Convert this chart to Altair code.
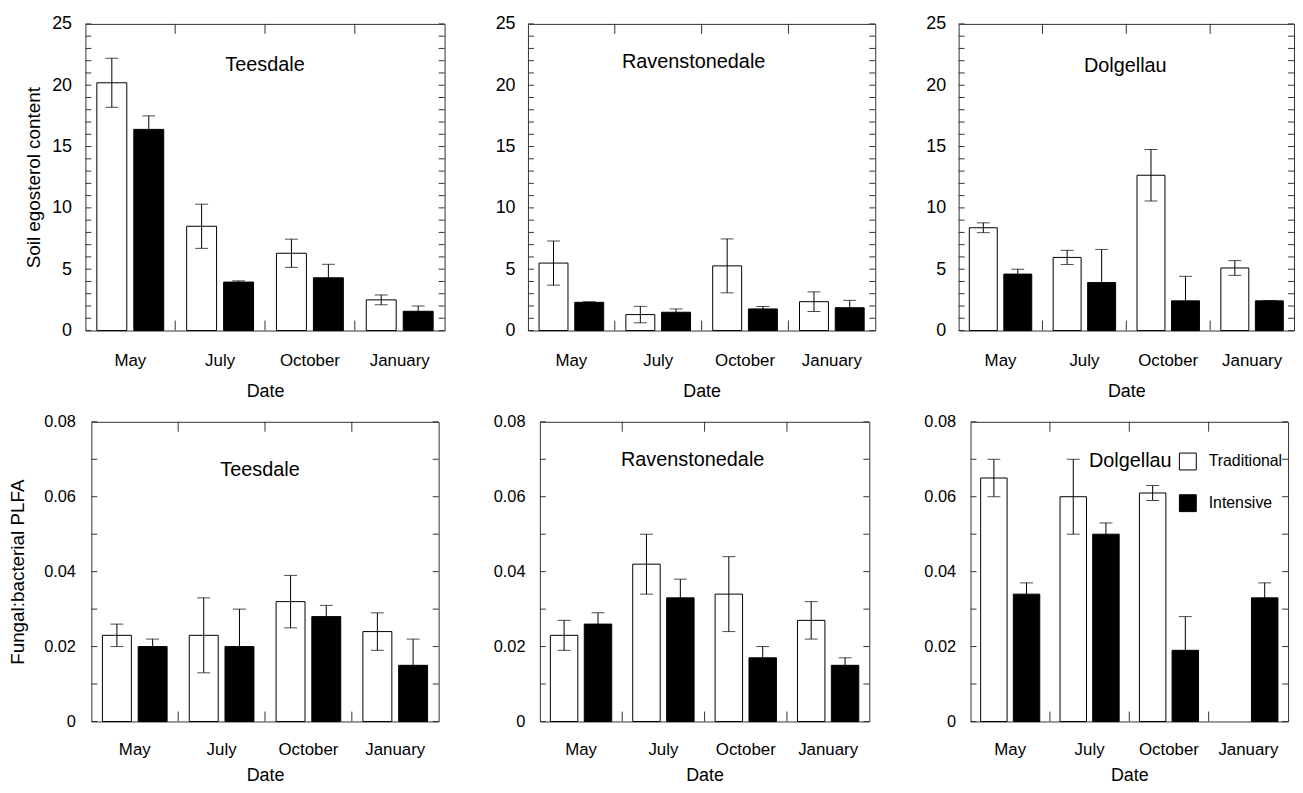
import altair as alt
import pandas as pd

FONT = "Liberation Sans"

months = ["May", "July", "October", "January"]
treatments = ["Traditional", "Intensive"]

# ---- Soil ergosterol content (top row) ----
tees_erg_trad = [20.2, 8.5, 6.3, 2.5]
tees_erg_trad_err = [2.0, 1.8, 1.15, 0.4]
tees_erg_int = [16.4, 3.95, 4.3, 1.57]
tees_erg_int_err = [1.1, 0.1, 1.1, 0.43]

rav_erg_trad = [5.5, 1.3, 5.27, 2.35]
rav_erg_trad_err = [1.8, 0.67, 2.2, 0.8]
rav_erg_int = [2.3, 1.49, 1.76, 1.86]
rav_erg_int_err = [0.05, 0.27, 0.2, 0.6]

dol_erg_trad = [8.38, 5.96, 12.66, 5.1]
dol_erg_trad_err = [0.4, 0.58, 2.1, 0.6]
dol_erg_int = [4.6, 3.91, 2.42, 2.42]
dol_erg_int_err = [0.4, 2.7, 2.0, 0.0]

# ---- Fungal:bacterial PLFA (bottom row) ----
tees_plfa_trad = [0.023, 0.023, 0.032, 0.024]
tees_plfa_trad_err = [0.003, 0.010, 0.007, 0.005]
tees_plfa_int = [0.020, 0.020, 0.028, 0.015]
tees_plfa_int_err = [0.002, 0.010, 0.003, 0.007]

rav_plfa_trad = [0.023, 0.042, 0.034, 0.027]
rav_plfa_trad_err = [0.004, 0.008, 0.010, 0.005]
rav_plfa_int = [0.026, 0.033, 0.017, 0.015]
rav_plfa_int_err = [0.003, 0.005, 0.003, 0.002]

dol_plfa_trad = [0.065, 0.060, 0.061, None]
dol_plfa_trad_err = [0.005, 0.010, 0.002, None]
dol_plfa_int = [0.034, 0.050, 0.019, 0.033]
dol_plfa_int_err = [0.003, 0.003, 0.009, 0.004]

erg_major = [0, 5, 10, 15, 20, 25]
erg_minor = list(range(0, 26))
plfa_major = [0, 0.02, 0.04, 0.06, 0.08]
plfa_minor = [0, 0.01, 0.02, 0.03, 0.04, 0.05, 0.06, 0.07, 0.08]
boundaries = ["July", "October", "January"]


def make_df(trad, trad_err, inten, inten_err):
    rows = []
    for i, m in enumerate(months):
        for t, vals, errs in (("Traditional", trad, trad_err), ("Intensive", inten, inten_err)):
            v = vals[i]
            if v is None:
                continue
            e = errs[i]
            rows.append({"date": m, "treatment": t, "value": v, "lo": v - e, "hi": v + e})
    return pd.DataFrame(rows)


def panel(site, df, ymax, major, minor, width, height, ytitle, y_extent, y_label_pad,
          y_title_pad, x_extent, x_label_pad, x_title_pad, ylabel_size, title_pos,
          label_expr, legend=None):
    xscale = alt.Scale(domain=months, paddingInner=0, paddingOuter=0)
    yscale = alt.Scale(domain=[0, ymax], nice=False, zero=True)
    xoff = alt.XOffset("treatment:N",
                       scale=alt.Scale(domain=treatments, paddingInner=0.19, paddingOuter=0.31))
    x_axis = alt.Axis(title="Date", labelAngle=0, ticks=False, tickSize=0, domain=False,
                      grid=False, labelPadding=x_label_pad, titlePadding=x_title_pad,
                      minExtent=x_extent, maxExtent=x_extent, labelFontSize=17,
                      titleFontSize=18)
    y_axis_kwargs = dict(values=major, ticks=False, tickSize=0, domain=False, grid=False,
                         labelPadding=y_label_pad, minExtent=y_extent, maxExtent=y_extent,
                         labelFontSize=ylabel_size, titleFontSize=19, labelExpr=label_expr)
    if ytitle:
        y_axis = alt.Axis(title=ytitle, titlePadding=y_title_pad, **y_axis_kwargs)
    else:
        y_axis = alt.Axis(title="", titlePadding=0, **y_axis_kwargs)

    fill_kwargs = dict(scale=alt.Scale(domain=treatments, range=["white", "black"]))
    if legend is None:
        fill_kwargs["legend"] = None
    else:
        fill_kwargs["legend"] = legend

    X = alt.X("date:N", scale=xscale, axis=x_axis)

    base = alt.Chart(df)
    bars = base.mark_bar(stroke="black", strokeWidth=1).encode(
        x=X,
        xOffset=xoff,
        y=alt.Y("value:Q", scale=yscale, axis=y_axis),
        fill=alt.Fill("treatment:N", **fill_kwargs),
    )
    err = base.mark_rule(color="black", strokeWidth=1).encode(
        x=X,
        xOffset=xoff,
        y=alt.Y("lo:Q", scale=yscale, axis=y_axis),
        y2="hi:Q",
    )
    cap_hi = base.mark_tick(color="black", thickness=1, size=13, orient="horizontal").encode(
        x=X,
        xOffset=xoff,
        y=alt.Y("hi:Q", scale=yscale, axis=y_axis),
    )
    cap_lo = base.mark_tick(color="black", thickness=1, size=13, orient="horizontal").encode(
        x=X,
        xOffset=xoff,
        y=alt.Y("lo:Q", scale=yscale, axis=y_axis),
    )
    tdf = pd.DataFrame({"v": minor})
    ytick_l = alt.Chart(tdf).mark_rule(color="#333", strokeWidth=1).encode(
        x=alt.value(0), x2=alt.value(6),
        y=alt.Y("v:Q", scale=yscale, axis=y_axis),
    )
    ytick_r = alt.Chart(tdf).mark_rule(color="#333", strokeWidth=1).encode(
        x=alt.value(width - 6), x2=alt.value(width),
        y=alt.Y("v:Q", scale=yscale, axis=y_axis),
    )
    bdf = pd.DataFrame({"date": boundaries})
    Xb = alt.X("date:N", scale=xscale, axis=x_axis, bandPosition=0)
    xtick_b = alt.Chart(bdf).mark_rule(color="#333", strokeWidth=1).encode(
        x=Xb, y=alt.value(height), y2=alt.value(height - 10),
    )
    xtick_t = alt.Chart(bdf).mark_rule(color="#333", strokeWidth=1).encode(
        x=Xb, y=alt.value(0), y2=alt.value(10),
    )
    title = alt.Chart(pd.DataFrame({"site": [site]})).mark_text(
        fontSize=20, font=FONT, align="center", baseline="middle", color="black"
    ).encode(text="site:N", x=alt.value(title_pos[0]), y=alt.value(title_pos[1]))

    return alt.layer(bars, err, cap_hi, cap_lo, ytick_l, ytick_r, xtick_b, xtick_t,
                     title).properties(width=width, height=height)


TOP_H = 309
BOT_H = 302
top_expr = "format(datum.value, 'd')"
bot_expr = "datum.value == 0 ? '0' : format(datum.value, '.2f')"

p1 = panel("Teesdale", make_df(tees_erg_trad, tees_erg_trad_err, tees_erg_int, tees_erg_int_err),
           25, erg_major, erg_minor, 362, TOP_H, "Soil egosterol content", 34, 14, 8,
           39, 22, 13, 18, (181, 41), top_expr)
p2 = panel("Ravenstonedale", make_df(rav_erg_trad, rav_erg_trad_err, rav_erg_int, rav_erg_int_err),
           25, erg_major, erg_minor, 350, TOP_H, None, 33, 13, 0,
           39, 22, 13, 18, (167, 38), top_expr)
p3 = panel("Dolgellau", make_df(dol_erg_trad, dol_erg_trad_err, dol_erg_int, dol_erg_int_err),
           25, erg_major, erg_minor, 338, TOP_H, None, 33, 13, 0,
           39, 22, 13, 18, (168, 42), top_expr)

legend = alt.Legend(orient="none", legendX=210, legendY=31, title=None, symbolType="square",
                    symbolSize=289, symbolStrokeColor="black", symbolStrokeWidth=1,
                    labelFontSize=16, labelFont=FONT, labelColor="black", labelOffset=12,
                    rowPadding=20, padding=0)

q1 = panel("Teesdale", make_df(tees_plfa_trad, tees_plfa_trad_err, tees_plfa_int, tees_plfa_int_err),
           0.08, plfa_major, plfa_minor, 350, BOT_H, "Fungal:bacterial PLFA", 48, 16, 16,
           37, 20, 8, 16.5, (170, 49), bot_expr)
q2 = panel("Ravenstonedale", make_df(rav_plfa_trad, rav_plfa_trad_err, rav_plfa_int, rav_plfa_int_err),
           0.08, plfa_major, plfa_minor, 332, BOT_H, None, 47, 15, 0,
           37, 20, 8, 16.5, (154, 39), bot_expr)
q3 = panel("Dolgellau", make_df(dol_plfa_trad, dol_plfa_trad_err, dol_plfa_int, dol_plfa_int_err),
           0.08, plfa_major, plfa_minor, 320, BOT_H, None, 47, 15, 0,
           36 + 1, 20, 8, 16.5, (161, 40), bot_expr, legend=legend)

res = dict(x="independent", y="independent", fill="independent", xOffset="independent")

top_row = alt.hconcat(p1, p2, p3, spacing=49).resolve_scale(**res).resolve_legend(fill="independent")
bot_row = alt.hconcat(q1, q2, q3, spacing=53).resolve_scale(**res).resolve_legend(fill="independent")

chart = alt.vconcat(top_row, bot_row, spacing=12, center=True).resolve_scale(**res).resolve_legend(
    fill="independent"
).properties(
    padding={"left": 0, "top": 3, "right": 0, "bottom": 0}
).configure(
    font=FONT, background="white"
).configure_view(
    stroke="#333", strokeWidth=1
).configure_axis(
    labelFont=FONT, titleFont=FONT, labelColor="black", titleColor="black",
    titleFontWeight="normal"
).configure_text(font=FONT)

chart.save("out.html", embed_options={"renderer": "svg", "actions": False})
